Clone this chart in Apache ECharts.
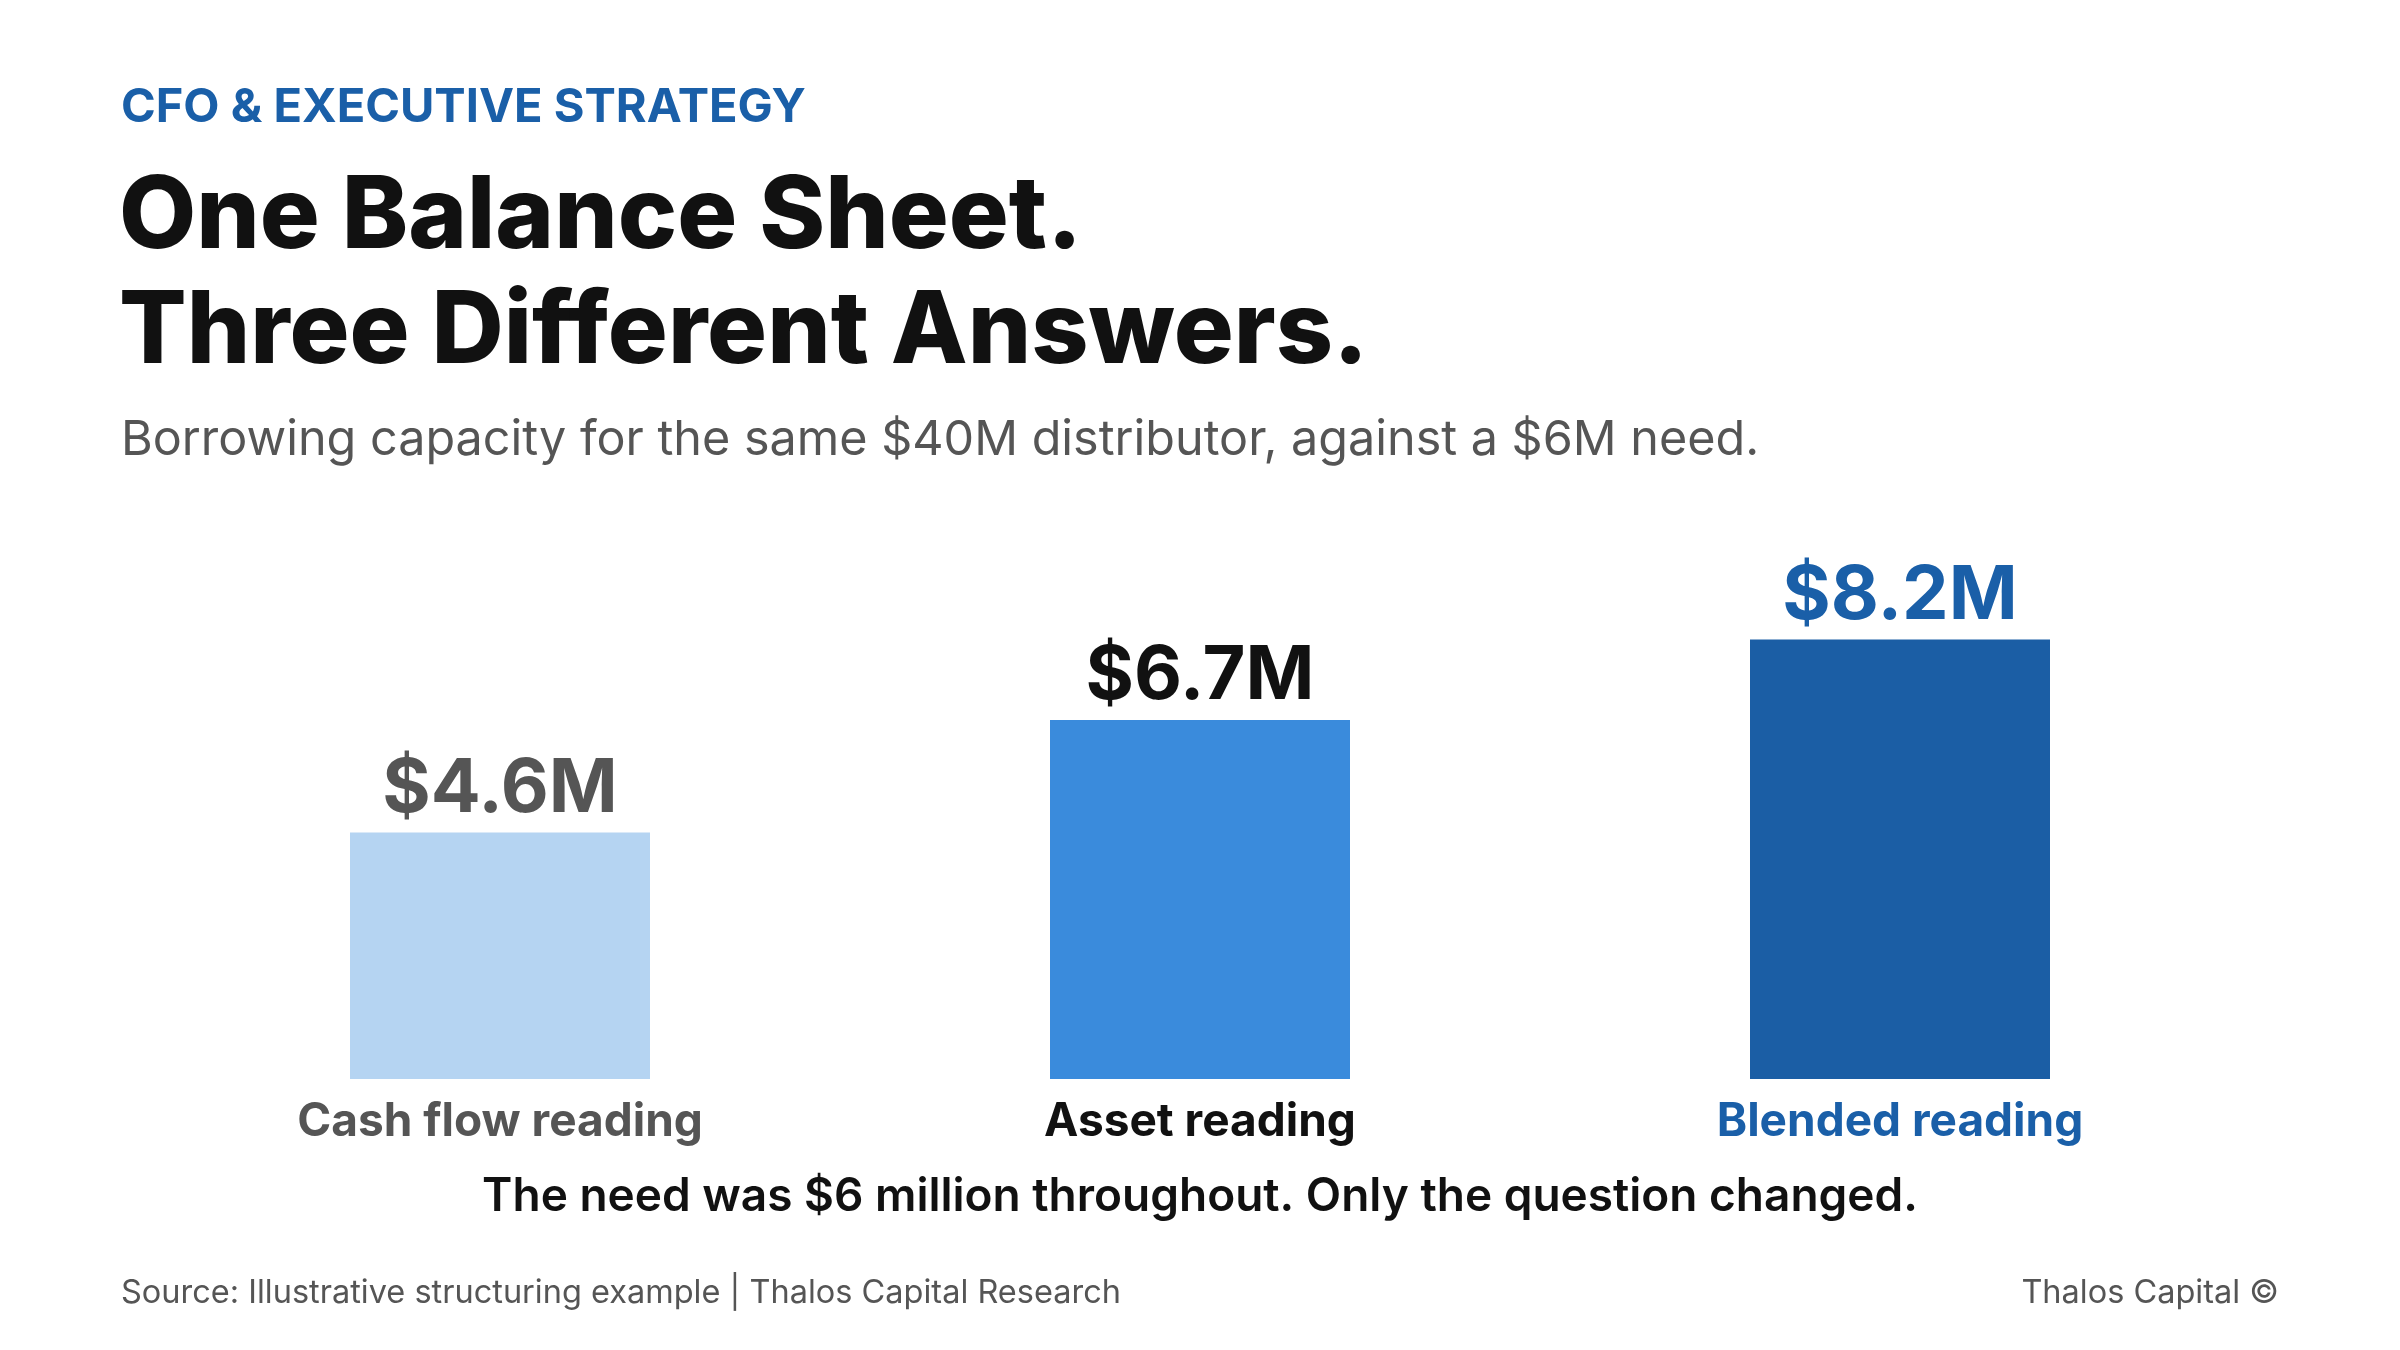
<!DOCTYPE html>
<html>
<head>
<meta charset="utf-8">
<style>
  html, body { margin: 0; padding: 0; background: #ffffff; }
  #chart { width: 2400px; height: 1350px; }
</style>
</head>
<body>
<div id="chart"></div>
<script src="https://cdn.jsdelivr.net/npm/echarts@6/dist/echarts.min.js"></script>
<script>
// chart data
var categories = ['Cash flow reading', 'Asset reading', 'Blended reading'];
var capacity = [4.6, 6.7, 8.2];          // $M
var barColors = ['#b5d4f2', '#3a8bdc', '#1b5ea5'];
var labelColors = ['#555555', '#111111', '#1a5fa8'];

var FONT = 'Inter, "Noto Sans", sans-serif';

var chart = echarts.init(document.getElementById('chart'));

var rich = {};
categories.forEach(function (c, i) {
    rich['c' + i] = { color: labelColors[i], fontSize: 46, fontWeight: 700, fontFamily: FONT };
});

var option = {
    backgroundColor: '#ffffff',
    title: [
        {
            text: 'CFO & EXECUTIVE STRATEGY',
            left: 116, top: 76,
            textStyle: { color: '#1a5fa8', fontSize: 47, fontWeight: 700, fontFamily: FONT, lineHeight: 54 }
        },
        {
            text: 'One Balance Sheet.\nThree Different Answers.',
            left: 114, top: 155,
            textStyle: { color: '#111111', fontSize: 100, fontWeight: 800, fontFamily: FONT, lineHeight: 115 }
        },
        {
            text: 'Borrowing capacity for the same $40M distributor, against a $6M need.',
            left: 116, top: 406,
            textStyle: { color: '#555555', fontSize: 48.5, fontWeight: 400, fontFamily: FONT, lineHeight: 58 }
        },
        {
            text: 'The need was $6 million throughout. Only the question changed.',
            left: 'center', top: 1164,
            textStyle: { color: '#111111', fontSize: 46, fontWeight: 600, fontFamily: FONT, lineHeight: 56 }
        },
        {
            text: 'Source: Illustrative structuring example | Thalos Capital Research',
            left: 116, top: 1268,
            textStyle: { color: '#555555', fontSize: 32.5, fontWeight: 400, fontFamily: FONT, lineHeight: 40 }
        },
        {
            text: 'Thalos Capital ©',
            right: 116, top: 1268,
            textStyle: { color: '#555555', fontSize: 32.5, fontWeight: 400, fontFamily: FONT, lineHeight: 40 }
        }
    ],
    grid: { left: 150, right: 150, top: 543, bottom: 271, containLabel: false },
    xAxis: {
        type: 'category',
        data: categories,
        axisLine: { show: false },
        axisTick: { show: false },
        axisLabel: {
            margin: 20,
            interval: 0,
            formatter: function (v, i) { return '{c' + i + '|' + v + '}'; },
            rich: rich
        }
    },
    yAxis: {
        type: 'value',
        min: 0,
        max: 10,
        show: false,
        splitLine: { show: false }
    },
    series: [{
        type: 'bar',
        barWidth: 300,
        data: capacity.map(function (v, i) {
            return {
                value: v,
                itemStyle: { color: barColors[i] },
                label: { color: labelColors[i] }
            };
        }),
        label: {
            show: true,
            position: 'top',
            distance: 6,
            fontSize: 74,
            fontWeight: 700,
            fontFamily: FONT,
            formatter: function (p) { return '$' + p.value.toFixed(1) + 'M'; }
        },
        animation: false
    }],
    animation: false
};

chart.setOption(option);
</script>
</body>
</html>
